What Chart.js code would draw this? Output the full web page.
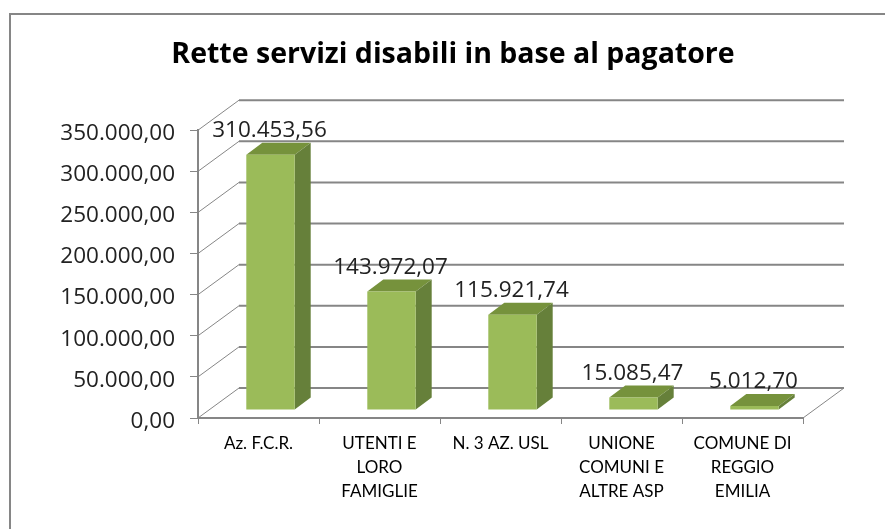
<!DOCTYPE html>
<html>
<head>
<meta charset="utf-8">
<script src="https://cdn.jsdelivr.net/npm/chart.js@4"></script>
<style>
    html, body { margin: 0; padding: 0; background: #fff; }
    #wrap { position: relative; width: 885px; height: 529px; overflow: hidden; }
    #frame { position: absolute; left: 9px; top: 13px; width: 900px; height: 560px; border: 2px solid #868686; }
    canvas { position: absolute; left: 0; top: 0; }
</style>
</head>
<body>
<div id="wrap">
    <div id="frame"></div>
    <canvas id="retteChart" width="885" height="529"></canvas>
</div>
<script>
const categories = [
    "Az. F.C.R.",
    ["UTENTI E", "LORO", "FAMIGLIE"],
    "N. 3 AZ. USL",
    ["UNIONE", "COMUNI E", "ALTRE ASP"],
    ["COMUNE DI", "REGGIO", "EMILIA"],
];
const rette = [310453.56, 143972.07, 115921.74, 15085.47, 5012.70];
const yMax = 350000;
const yStep = 50000;

// how far the back wall sits from the front of the box
const wallX = 41;
const wallY = -30;
// bars stand a bit behind the front edge
const barShiftX = 12;
const barShiftY = -8;
// depth of the bars themselves
const barDepthX = 16;
const barDepthY = -12;

const gridColor = "#868686";
const labelFont = "22.5px 'Open Sans'";

// de-DE because it-IT drops the thousands dot under 10.000
const fmt = (v) => v.toLocaleString("de-DE", { minimumFractionDigits: 2, maximumFractionDigits: 2 });

const box3d = {
    id: "box3d",
    // walls and floor
    beforeDatasetsDraw(chart) {
        const ctx = chart.ctx;
        const { left, right, bottom } = chart.chartArea;
        const y = chart.scales.y;
        ctx.save();
        ctx.strokeStyle = gridColor;
        y.ticks.forEach((t) => {
            const py = y.getPixelForValue(t.value);
            ctx.lineWidth = 1;
            ctx.beginPath();
            ctx.moveTo(left, py);
            ctx.lineTo(left + wallX, py + wallY);
            ctx.stroke();
            ctx.lineWidth = 2;
            ctx.beginPath();
            ctx.moveTo(left + wallX, py + wallY);
            ctx.lineTo(right + wallX, py + wallY);
            ctx.stroke();
        });
        // floor edges
        ctx.lineWidth = 1;
        ctx.beginPath();
        ctx.moveTo(right, bottom);
        ctx.lineTo(right + wallX, bottom + wallY);
        ctx.stroke();
        ctx.restore();
        // bars get moved onto the floor
        ctx.save();
        ctx.translate(barShiftX, barShiftY);
        const meta = chart.getDatasetMeta(0);
        meta.data.forEach((bar) => {
            const p = bar.getProps(["x", "y", "base", "width"], true);
            const l = p.x - p.width / 2;
            const r = p.x + p.width / 2;
            ctx.fillStyle = "#76923C";
            ctx.beginPath();
            ctx.moveTo(l, p.y);
            ctx.lineTo(l + barDepthX, p.y + barDepthY);
            ctx.lineTo(r + barDepthX, p.y + barDepthY);
            ctx.lineTo(r, p.y);
            ctx.closePath();
            ctx.fill();
            ctx.fillStyle = "#66803A";
            ctx.beginPath();
            ctx.moveTo(r, p.y);
            ctx.lineTo(r + barDepthX, p.y + barDepthY);
            ctx.lineTo(r + barDepthX, p.base + barDepthY);
            ctx.lineTo(r, p.base);
            ctx.closePath();
            ctx.fill();
        });
    },
    afterDatasetsDraw(chart) {
        const ctx = chart.ctx;
        ctx.restore();
        ctx.save();
        ctx.fillStyle = "#222";
        ctx.font = labelFont;
        ctx.textAlign = "center";
        ctx.textBaseline = "middle";
        chart.getDatasetMeta(0).data.forEach((bar, i) => {
            const p = bar.getProps(["x", "y"], true);
            ctx.fillText(fmt(rette[i]), p.x + barShiftX - 1, p.y + barShiftY - 24);
        });
        ctx.restore();
    },
};

new Chart(document.getElementById("retteChart"), {
    type: "bar",
    data: {
        labels: categories,
        datasets: [
            {
                data: rette,
                backgroundColor: "#9BBB59",
                barPercentage: 0.4,
                categoryPercentage: 1,
                clip: false,
            },
        ],
    },
    options: {
        responsive: false,
        animation: false,
        layout: {
            // the title centres between the paddings, this puts it at x=453
            padding: { left: 21, right: 0, top: 0, bottom: 0 },
        },
        plugins: {
            legend: { display: false },
            tooltip: { enabled: false },
            title: {
                display: true,
                text: "Rette servizi disabili in base al pagatore",
                color: "#000",
                font: { family: "Open Sans", size: 28.5, weight: "bold" },
                padding: { top: 38, bottom: 58 },
            },
        },
        scales: {
            x: {
                afterFit(scale) {
                    scale.height = 111;
                },
                grid: { display: true, drawOnChartArea: false, color: gridColor, lineWidth: 1, tickLength: 6 },
                border: { color: gridColor, width: 2 },
                ticks: {
                    color: "#000",
                    font: { family: "Lato", size: 17, lineHeight: 1.41 },
                    maxRotation: 0,
                    autoSkip: false,
                    padding: 8,
                },
            },
            y: {
                min: 0,
                max: yMax,
                afterFit(scale) {
                    scale.width = 177;
                },
                grid: { display: true, drawOnChartArea: false, color: gridColor, lineWidth: 1, tickLength: 8 },
                border: { color: gridColor, width: 2 },
                ticks: {
                    stepSize: yStep,
                    color: "#222",
                    // empty first line + tight lineHeight nudges the label a few px below its tick
                    font: { family: "Open Sans", size: 22.5, lineHeight: 0.3 },
                    padding: 15,
                    callback: (v) => ["", fmt(v)],
                },
            },
            // empty axis, only keeps room on the right for the back wall
            spacer: {
                position: "right",
                afterFit(scale) {
                    scale.width = 82;
                },
                grid: { display: false },
                border: { display: false },
                ticks: { display: false },
            },
        },
    },
    plugins: [box3d],
});
</script>
</body>
</html>
